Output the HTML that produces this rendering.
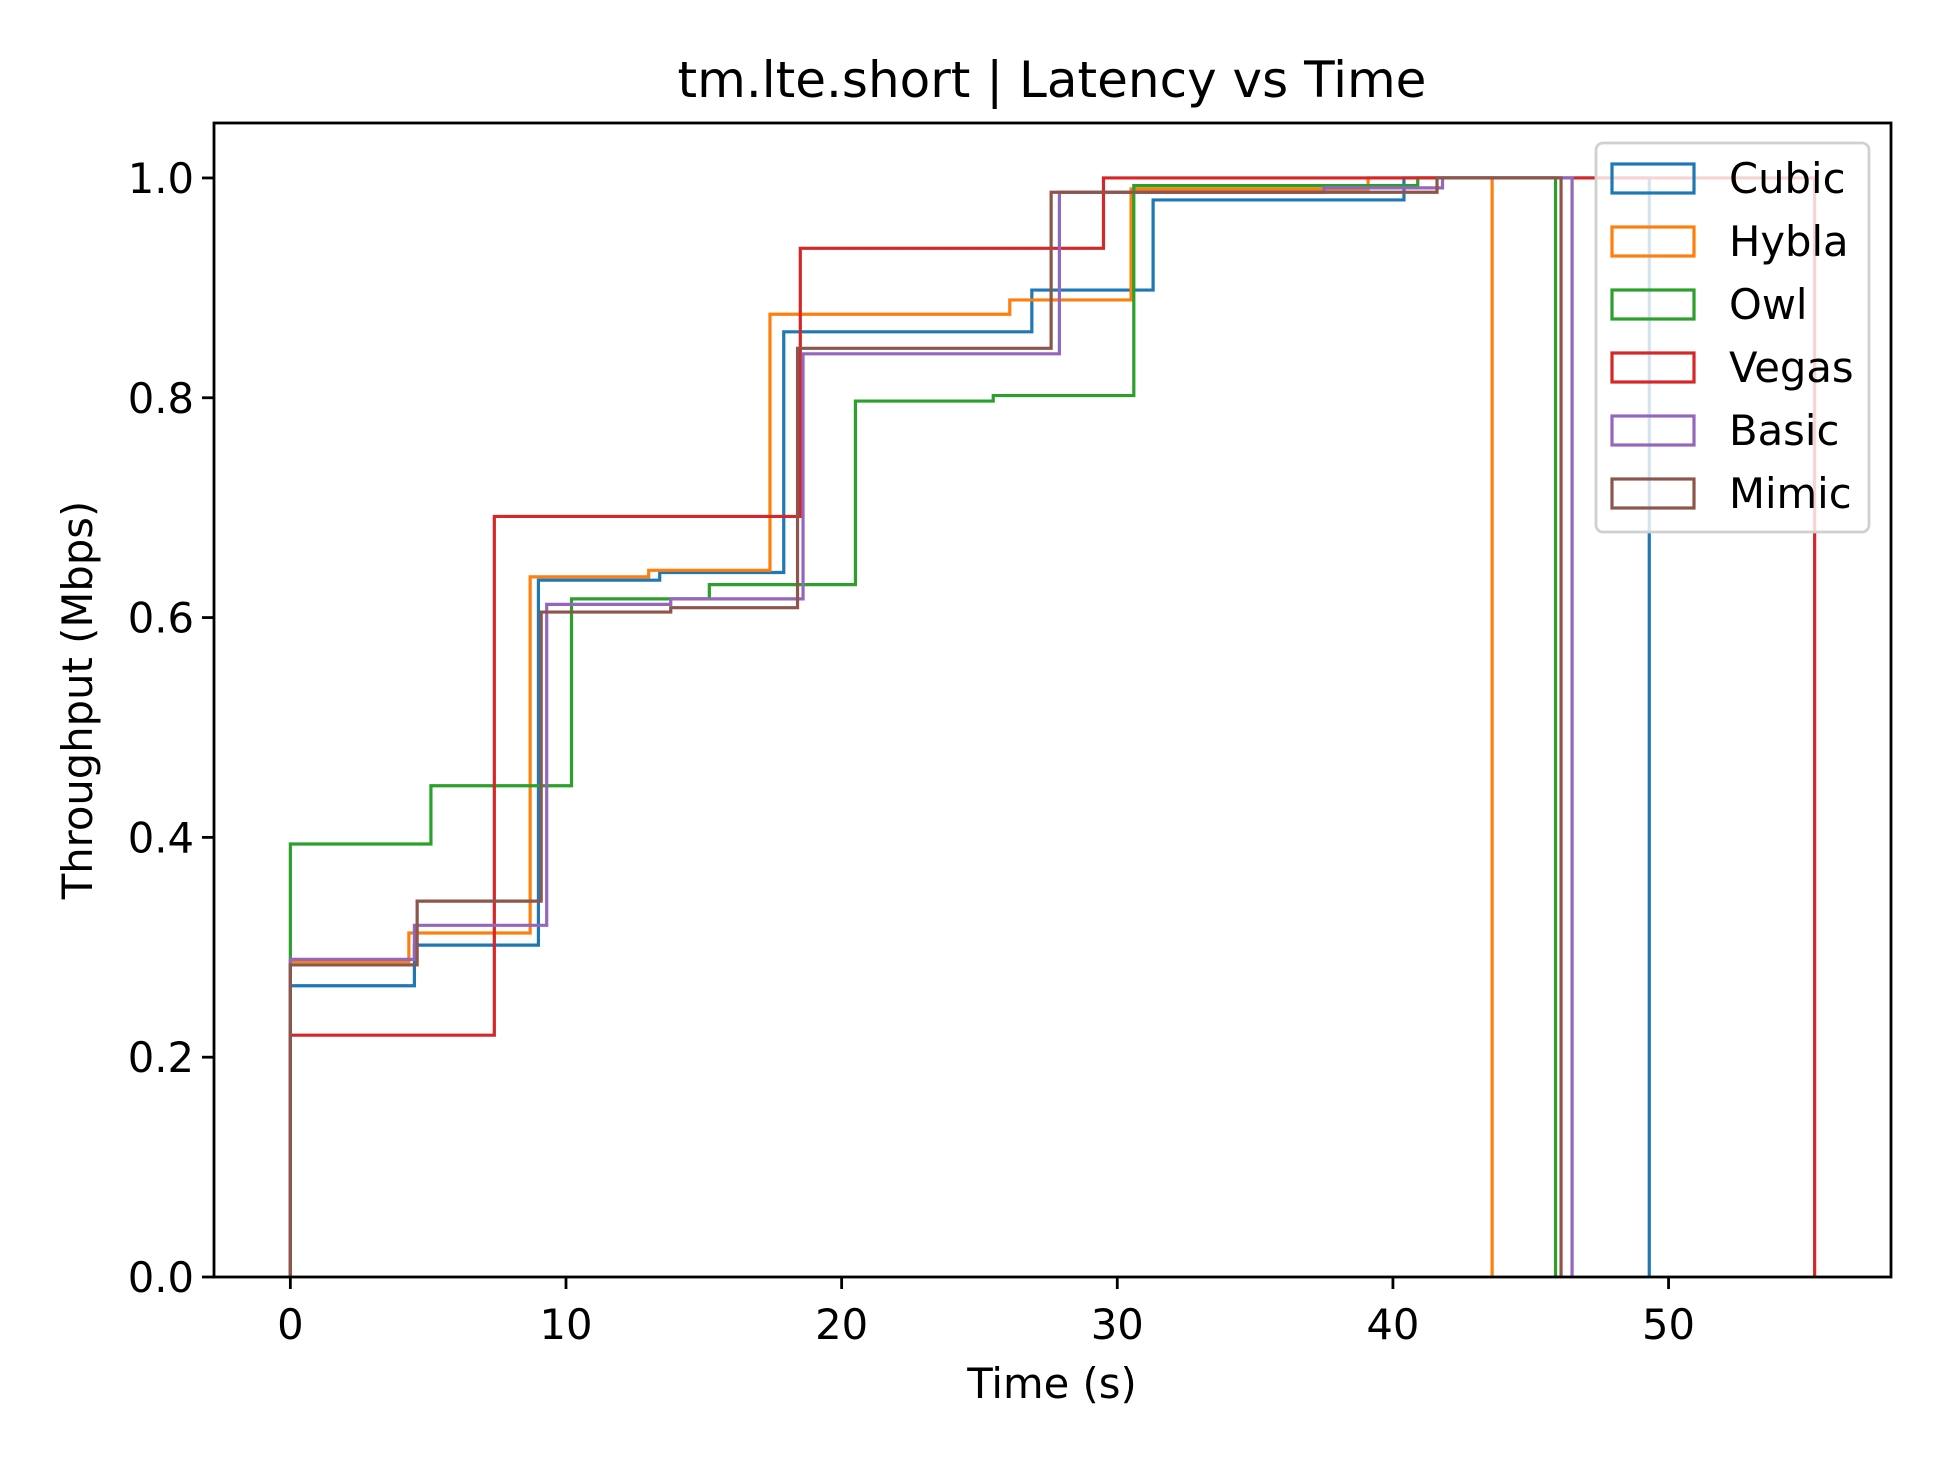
<!DOCTYPE html>
<html><head><meta charset="utf-8"><style>
html,body{margin:0;padding:0;background:#fff;}
svg{display:block;font-family:"DejaVu Sans","Liberation Sans",sans-serif;}
</style></head>
<body>
<svg id="chart" width="1950" height="1466" viewBox="0 0 1950 1466" xmlns="http://www.w3.org/2000/svg">
<rect width="1950" height="1466" fill="#fff"/>
<text x="1052" y="97" font-size="50" text-anchor="middle">tm.lte.short | Latency vs Time</text>
<g id="series"></g>
<g id="axes"></g>
<text x="1052" y="1398" font-size="41.7" text-anchor="middle">Time (s)</text>
<text x="0" y="0" font-size="41.7" text-anchor="middle" transform="translate(92,700) rotate(-90)">Throughput (Mbps)</text>
<g id="legend"></g>
</svg>
<script>
const seriesNames = ["Cubic","Hybla","Owl","Vegas","Basic","Mimic"];
const seriesColors = ["#1f77b4","#ff7f0e","#2ca02c","#d62728","#9467bd","#8c564b"];
const cubicEdges = [0,4.5,9.0,13.4,17.9,26.9,31.3,40.4,49.3];
const cubicValues = [0.265,0.302,0.634,0.641,0.860,0.898,0.980,1.0];
const hyblaEdges = [0,4.3,8.7,13.0,17.4,26.1,30.5,39.1,43.6];
const hyblaValues = [0.287,0.313,0.637,0.643,0.876,0.889,0.990,1.0];
const owlEdges = [0,5.1,10.2,15.2,20.5,25.5,30.6,40.9,45.9];
const owlValues = [0.394,0.447,0.617,0.630,0.797,0.802,0.993,1.0];
const vegasEdges = [0,7.4,18.5,29.5,55.3];
const vegasValues = [0.220,0.692,0.936,1.0];
const basicEdges = [0,4.5,9.3,13.8,18.6,27.9,37.5,41.8,46.5];
const basicValues = [0.289,0.320,0.612,0.617,0.840,0.987,0.991,1.0];
const mimicEdges = [0,4.6,9.1,13.8,18.4,27.6,41.6,46.1];
const mimicValues = [0.284,0.342,0.605,0.609,0.845,0.987,1.0];
const xTicks = [0,10,20,30,40,50];
const yTicks = [0,0.2,0.4,0.6,0.8,1.0];
const yTickLabels = ["0.0","0.2","0.4","0.6","0.8","1.0"];

const allEdges=[cubicEdges,hyblaEdges,owlEdges,vegasEdges,basicEdges,mimicEdges];
const allValues=[cubicValues,hyblaValues,owlValues,vegasValues,basicValues,mimicValues];
const L=214,R=1891,T=123,B=1277;
const xmin=-2.77,xmax=58.07,ymin=0,ymax=1.05;
function X(v){return L+(v-xmin)/(xmax-xmin)*(R-L);}
function Y(v){return B-(v-ymin)/(ymax-ymin)*(B-T);}
const NS="http://www.w3.org/2000/svg";
const sg=document.getElementById('series');
for(let s=0;s<seriesNames.length;s++){
  const e=allEdges[s],v=allValues[s];
  let d="M"+X(e[0])+","+Y(0);
  for(let i=0;i<v.length;i++){
    d+=" L"+X(e[i])+","+Y(v[i])+" L"+X(e[i+1])+","+Y(v[i]);
  }
  d+=" L"+X(e[e.length-1])+","+Y(0);
  const p=document.createElementNS(NS,'path');
  p.setAttribute('d',d);p.setAttribute('fill','none');
  p.setAttribute('stroke',seriesColors[s]);p.setAttribute('stroke-width','3.2');
  
  
  sg.appendChild(p);
}
const ag=document.getElementById('axes');
const frame=document.createElementNS(NS,'rect');
frame.setAttribute('x',L);frame.setAttribute('y',T);frame.setAttribute('width',R-L);frame.setAttribute('height',B-T);
frame.setAttribute('fill','none');frame.setAttribute('stroke','#000');frame.setAttribute('stroke-width','2.8');


ag.appendChild(frame);
xTicks.forEach(t=>{
  const ln=document.createElementNS(NS,'line');
  ln.setAttribute('x1',X(t));ln.setAttribute('x2',X(t));ln.setAttribute('y1',B);ln.setAttribute('y2',B+12);
  ln.setAttribute('stroke','#000');ln.setAttribute('stroke-width','2.8');
  
  
  ag.appendChild(ln);
  const tx=document.createElementNS(NS,'text');
  tx.setAttribute('x',X(t));tx.setAttribute('y',B+62);tx.setAttribute('font-size','41.7');tx.setAttribute('text-anchor','middle');
  tx.textContent=String(t);
  
  
  ag.appendChild(tx);
});
yTicks.forEach((t,i)=>{
  const ln=document.createElementNS(NS,'line');
  ln.setAttribute('x1',L-12);ln.setAttribute('x2',L);ln.setAttribute('y1',Y(t));ln.setAttribute('y2',Y(t));
  ln.setAttribute('stroke','#000');ln.setAttribute('stroke-width','2.8');
  
  
  ag.appendChild(ln);
  const tx=document.createElementNS(NS,'text');
  tx.setAttribute('x',L-20);tx.setAttribute('y',Y(t)+15);tx.setAttribute('font-size','41.7');tx.setAttribute('text-anchor','end');
  tx.textContent=yTickLabels[i];
  
  
  ag.appendChild(tx);
});
const lg=document.getElementById('legend');


const box=document.createElementNS(NS,'rect');
box.setAttribute('x',1596);box.setAttribute('y',143);box.setAttribute('width',273);box.setAttribute('height',389);
box.setAttribute('rx',7);box.setAttribute('fill','#fff');box.setAttribute('fill-opacity','0.8');
box.setAttribute('stroke','#d0d0d0');box.setAttribute('stroke-width','2.8');


lg.appendChild(box);
seriesNames.forEach((n,i)=>{
  const cy=178+i*63;
  const r=document.createElementNS(NS,'rect');
  r.setAttribute('x',1612);r.setAttribute('y',cy-14);r.setAttribute('width',82);r.setAttribute('height',29);
  r.setAttribute('fill','none');r.setAttribute('stroke',seriesColors[i]);r.setAttribute('stroke-width','3.2');
  
  
  lg.appendChild(r);
  const tx=document.createElementNS(NS,'text');
  tx.setAttribute('x',1729);tx.setAttribute('y',cy+15);tx.setAttribute('font-size','41.7');
  tx.textContent=n;
  
  
  lg.appendChild(tx);
});
</script>
</body></html>
